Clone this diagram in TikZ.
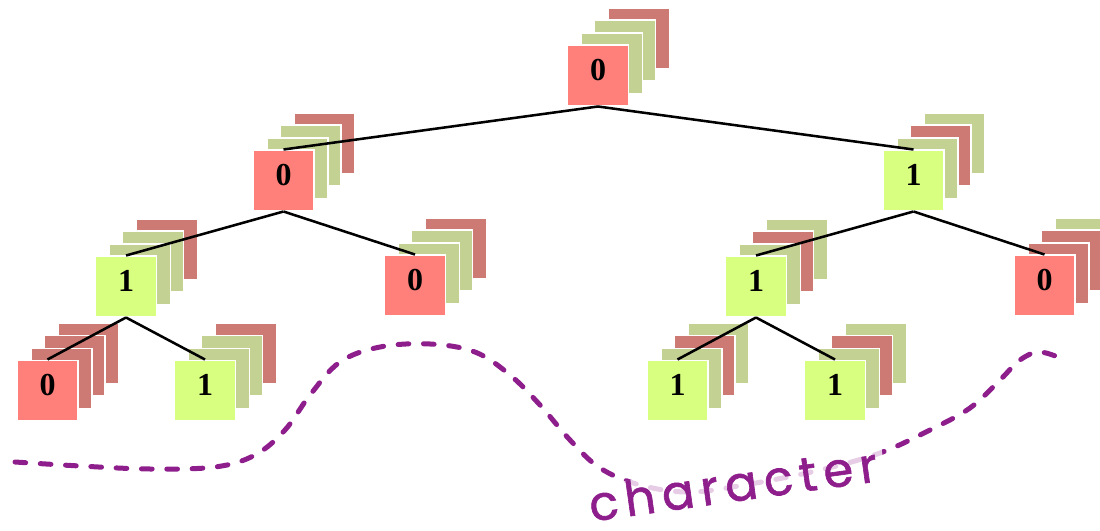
\documentclass[tikz,border=0pt]{standalone}
\usepackage{fontspec}
\setmainfont{Liberation Serif}
\newfontfamily\chfont[LetterSpace=14, FakeBold=1.3]{Poppins}
\usetikzlibrary{calc}
\definecolor{fr}{RGB}{255,127,122}
\definecolor{br}{RGB}{204,122,115}
\definecolor{fg}{RGB}{217,255,128}
\definecolor{bg}{RGB}{195,209,147}
\definecolor{pu}{RGB}{142,30,140}
\tikzset{
 sq/.style={rectangle, draw=white, line width=0.8pt, minimum size=45.7pt, inner sep=0pt},
 front/.style={sq, font=\fontsize{24}{24}\selectfont\bfseries, text depth=8pt},
 edge/.style={line width=1.9pt, black},
 wave/.style={pu, line width=3.75pt, line cap=round, dash pattern=on 8pt off 11pt},
 wordlabel/.style={font=\chfont\fontsize{36}{36}\selectfont, text=pu, rotate=8, fill=white, fill opacity=0.78, text opacity=1, inner xsep=5pt, inner ysep=0pt},
}
\newcommand\backstack[5]{%
  \node[sq,fill=#5] (#1-4) at ($(#2)+(41,-37)$) {};
  \node[sq,fill=#4] (#1-3) at ($(#2)+(27,-25)$) {};
  \node[sq,fill=#3] (#1-2) at ($(#2)+(14,-12)$) {};
}
\begin{document}
\begin{tikzpicture}[x=0.75pt,y=-0.75pt]
\useasboundingbox (0,0) rectangle (1100,531);
% positions
\coordinate (p-root) at (598,75.5);
\coordinate (p-L) at (283.5,180.5);
\coordinate (p-R) at (913.5,180.5);
\coordinate (p-LL) at (126,286.5);
\coordinate (p-LR) at (415,285.5);
\coordinate (p-RL) at (756,286.5);
\coordinate (p-RR) at (1044.5,285.5);
\coordinate (p-LLL) at (47.5,390.5);
\coordinate (p-LLR) at (205,390.5);
\coordinate (p-RLL) at (677.5,390.5);
\coordinate (p-RLR) at (835,390.5);
% back stacks
\backstack{root}{p-root}{bg}{bg}{br}
\backstack{L}{p-L}{bg}{bg}{br}
\backstack{R}{p-R}{bg}{br}{bg}
\backstack{LL}{p-LL}{bg}{bg}{br}
\backstack{LR}{p-LR}{bg}{bg}{br}
\backstack{RL}{p-RL}{bg}{br}{bg}
\backstack{RR}{p-RR}{br}{br}{bg}
\backstack{LLL}{p-LLL}{br}{br}{br}
\backstack{LLR}{p-LLR}{bg}{bg}{br}
\backstack{RLL}{p-RLL}{bg}{br}{bg}
\backstack{RLR}{p-RLR}{bg}{br}{bg}
% front squares
\node[front,fill=fr] (root) at (p-root) {0};
\node[front,fill=fr] (L) at (p-L) {0};
\node[front,fill=fg] (R) at (p-R) {1};
\node[front,fill=fg] (LL) at (p-LL) {1};
\node[front,fill=fr] (LR) at (p-LR) {0};
\node[front,fill=fg] (RL) at (p-RL) {1};
\node[front,fill=fr] (RR) at (p-RR) {0};
\node[front,fill=fr] (LLL) at (p-LLL) {0};
\node[front,fill=fg] (LLR) at (p-LLR) {1};
\node[front,fill=fg] (RLL) at (p-RLL) {1};
\node[front,fill=fg] (RLR) at (p-RLR) {1};
% edges
\draw[edge] (root.south) -- (L.north);
\draw[edge] (root.south) -- (R.north);
\draw[edge] (L.south) -- (LL.north);
\draw[edge] (L.south) -- (LR.north);
\draw[edge] (R.south) -- (RL.north);
\draw[edge] (R.south) -- (RR.north);
\draw[edge] (LL.south) -- (LLL.north);
\draw[edge] (LL.south) -- (LLR.north);
\draw[edge] (RL.south) -- (RLL.north);
\draw[edge] (RL.south) -- (RLR.north);
% wavy dashed curve
\draw[wave] plot[smooth, tension=0.6] coordinates {
 (15,462) (80,466) (150,469) (215,467) (255,455) (285,430) (310,395)
 (340,362) (380,347) (430,344) (475,352) (510,375) (540,405) (570,440)
 (600,468) (640,485) (690,492) (750,484) (820,470) (880,453) (930,430)
 (970,408) (1000,380) (1020,360) (1040,352) (1065,360)};
\node[wordlabel] (word) at (733,484) {character};
\end{tikzpicture}
\end{document}
